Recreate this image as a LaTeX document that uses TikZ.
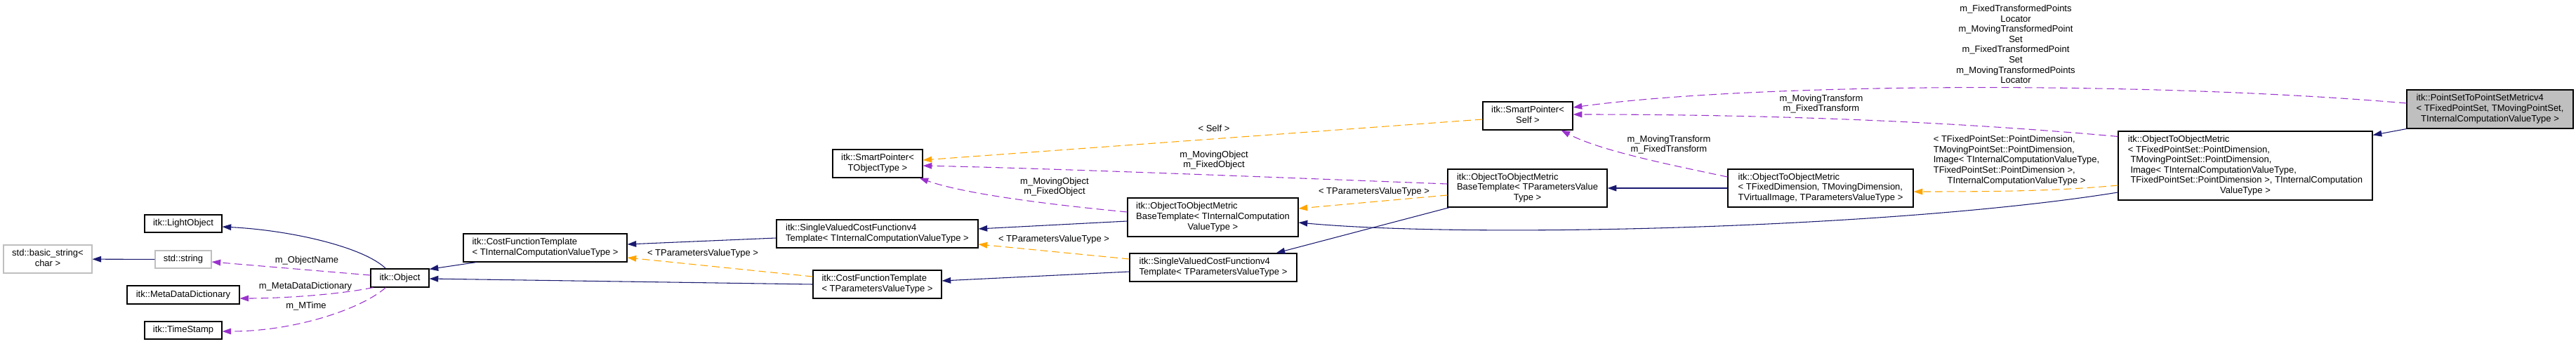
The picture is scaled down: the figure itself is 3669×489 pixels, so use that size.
\documentclass[tikz,border=0pt]{standalone}
\usepackage{fontspec}
\setmainfont{Liberation Sans}
\usetikzlibrary{arrows.meta, calc}
\definecolor{inhblue}{HTML}{191970}
\definecolor{memviolet}{HTML}{9A32CD}
\definecolor{tplorange}{HTML}{FFA500}
\newcommand{\ltxt}[1]{\begin{tabular}{@{}l@{}}#1\end{tabular}}
\newcommand{\ctxt}[1]{\begin{tabular}{@{}c@{}}#1\end{tabular}}
\newcommand{\lastc}[1]{\multicolumn{1}{@{}c@{}}{#1}}
\tikzset{
  inh/.style={-{Triangle[length=9.5pt,width=6.5pt]}, draw=inhblue, line width=0.8pt},
  mem/.style={-{Triangle[length=9.5pt,width=6.5pt]}, draw=memviolet, line width=0.8pt, dash pattern=on 8pt off 4.5pt},
  tpl/.style={-{Triangle[length=9.5pt,width=6.5pt]}, draw=tplorange, line width=0.8pt, dash pattern=on 8pt off 4.5pt},
  cls/.style={draw=black, line width=0.85pt, inner sep=0pt, fill=white},
  ext/.style={cls, draw=black!25},
  cur/.style={cls, fill=black!25},
  lab/.style={inner sep=0pt, align=center},
  sz/.style 2 args={minimum width=#1*0.75pt, minimum height=#2*0.75pt}
}

\begin{document}
\begin{tikzpicture}[x=0.75pt, y=-0.75pt, font=\fontsize{9.75}{10.95}\selectfont]
\useasboundingbox (0,0) rectangle (3669,489);

\node[ext, sz={126}{40}] (basic) at (68,369) {\ctxt{std::basic\_string<\\char >}};
\node[ext, sz={80}{25}] (str) at (261,369.5) {std::string};
\node[cls, sz={110}{25}] (light) at (261,318.5) {itk::LightObject};
\node[cls, sz={160}{26}] (mdd) at (261,420) {itk::MetaDataDictionary};
\node[cls, sz={110}{25}] (stamp) at (261,470.5) {itk::TimeStamp};
\node[cls, sz={83}{26}] (obj) at (569.5,396) {itk::Object};
\node[cls, sz={233}{40}] (cftI) at (776.5,353)
  {\ltxt{itk::CostFunctionTemplate\\< TInternalComputationValueType >}};
\node[cls, sz={183}{40}] (cftP) at (1249.5,405)
  {\ltxt{itk::CostFunctionTemplate\\< TParametersValueType >}};
\node[cls, sz={287}{40}] (svI) at (1249.5,333)
  {\ltxt{itk::SingleValuedCostFunctionv4\\Template< TInternalComputationValueType >}};
\node[cls, sz={128}{40}] (spObj) at (1250,233) {\ctxt{itk::SmartPointer<\\TObjectType >}};
\node[cls, sz={243}{55}] (baseI) at (1727.5,309.5)
  {\ltxt{itk::ObjectToObjectMetric\\BaseTemplate< TInternalComputation\\\lastc{ValueType >}}};
\node[cls, sz={238}{40}] (svP) at (1728,381)
  {\ltxt{itk::SingleValuedCostFunctionv4\\Template< TParametersValueType >}};
\node[cls, sz={128}{40}] (spSelf) at (2176,165) {\ctxt{itk::SmartPointer<\\Self >}};
\node[cls, sz={227}{54}] (baseP) at (2175.5,268)
  {\ltxt{itk::ObjectToObjectMetric\\BaseTemplate< TParametersValue\\\lastc{Type >}}};
\node[cls, sz={264}{54}] (otomD) at (2593,268)
  {\ltxt{itk::ObjectToObjectMetric\\< TFixedDimension, TMovingDimension,\\\lastc{TVirtualImage, TParametersValueType >}}};
\node[cls, sz={362}{98}] (otomP) at (3198,236)
  {\ltxt{itk::ObjectToObjectMetric\\< TFixedPointSet::PointDimension,\\\ TMovingPointSet::PointDimension,\\\ Image< TInternalComputationValueType,\\\ TFixedPointSet::PointDimension >, TInternalComputation\\\lastc{ValueType >}}};
\node[cur, sz={237}{55}] (ps) at (3546.5,155.5)
  {\ltxt{itk::PointSetToPointSetMetricv4\\< TFixedPointSet, TMovingPointSet,\\\lastc{TInternalComputationValueType >}}};

\draw[inh] ($(obj.north west)+(22,0)$) .. controls (518,352) and (415,328) .. ($(light.east)+(0,4.5)$);
\draw[inh] (str) -- (basic);
\draw[mem] ($(obj.west)+(0,-4)$) -- ($(str.east)+(0,3.5)$)
  node[lab] (lobjname) at (437,371) {m\_ObjectName};
\draw[mem] ($(obj.south west)+(4,0)$) .. controls (480,420) and (400,425) .. ($(mdd.east)+(0,5)$)
  node[lab] (lmdd) at (435,408) {m\_MetaDataDictionary};
\draw[mem] ($(obj.south west)+(22,0)$) .. controls (515,440) and (420,472) .. ($(stamp.east)+(0,1.5)$)
  node[lab] (lmtime) at (436,436) {m\_MTime};
\draw[inh] ($(cftI.south west)+(19,0)$) -- ($(obj.north east)+(0,1)$);
\draw[inh] (cftP.west) -- ($(obj.east)+(0,1)$);
\draw[tpl] ($(cftP.west)+(0,-11)$) -- ($(cftI.east)+(0,14)$)
  node[lab] (lcft) at (1001,361) {< TParametersValueType >};
\draw[inh] ($(svI.west)+(0,6)$) -- ($(cftI.east)+(0,-5)$);
\draw[tpl] ($(svP.west)+(0,-12)$) -- ($(svI.east)+(0,15)$)
  node[lab] (lsv) at (1501,341) {< TParametersValueType >};
\draw[inh] ($(svP.west)+(0,6)$) -- ($(cftP.east)+(0,-5)$);
\draw[inh] ($(baseI.west)+(0,5.5)$) -- ($(svI.east)+(0,-7)$);
\draw[mem] ($(baseI.west)+(0,-7.5)$) .. controls (1480,290) and (1370,275) .. ($(spObj.south east)+(-5,0)$)
  node[lab] (lobjI) at (1502,266) {m\_MovingObject\\m\_FixedObject};
\draw[mem] ($(baseP.west)+(0,-6)$) .. controls (1800,252) and (1500,240) .. ($(spObj.east)+(0,3)$)
  node[lab] (lobjP) at (1729,228) {m\_MovingObject\\m\_FixedObject};
\draw[tpl] ($(spSelf.west)+(0,5)$) -- ($(spObj.east)+(0,-5)$)
  node[lab] (lself) at (1729,183) {< Self >};
\draw[tpl] ($(baseP.west)+(0,10)$) -- ($(baseI.east)+(0,-12.5)$)
  node[lab] (lbase) at (1957,273) {< TParametersValueType >};
\draw[inh] ($(baseP.south west)+(3,0)$) -- ($(svP.north east)+(-30,0)$);
\draw[inh] (otomD) -- (baseP);
\draw[mem] ($(otomD.west)+(0,-16)$) .. controls (2380,235) and (2280,215) .. ($(spSelf.south east)+(-17,0)$)
  node[lab] (ltrD) at (2377,206) {m\_MovingTransform\\m\_FixedTransform};
\draw[mem] ($(otomP.north west)+(0,8)$) .. controls (2800,175) and (2550,163) .. ($(spSelf.east)+(0,-2)$)
  node[lab] (ltrP) at (2594,148) {m\_MovingTransform\\m\_FixedTransform};
\draw[mem] ($(ps.west)+(0,-8.5)$) .. controls (3050,115) and (2500,118) .. ($(spSelf.east)+(0,-12)$)
  node[lab] (lpts) at (2871,63) {m\_FixedTransformedPoints\\Locator\\m\_MovingTransformedPoint\\Set\\m\_FixedTransformedPoint\\Set\\m\_MovingTransformedPoints\\Locator};
\draw[tpl] ($(otomP.west)+(0,28)$) .. controls (2930,272) and (2850,273) .. ($(otomD.east)+(0,5)$)
  node[lab] (lotom) at (2872,229) {\ltxt{< TFixedPointSet::PointDimension,\\TMovingPointSet::PointDimension,\\Image< TInternalComputationValueType,\\TFixedPointSet::PointDimension >,\\\lastc{TInternalComputationValueType >}}};
\draw[inh] ($(otomP.west)+(0,38)$) .. controls (2700,325) and (2100,340) .. ($(baseI.east)+(0,7.5)$);
\draw[inh] (ps.south west) -- ($(otomP.north east)+(0,6)$);
\end{tikzpicture}
\end{document}
